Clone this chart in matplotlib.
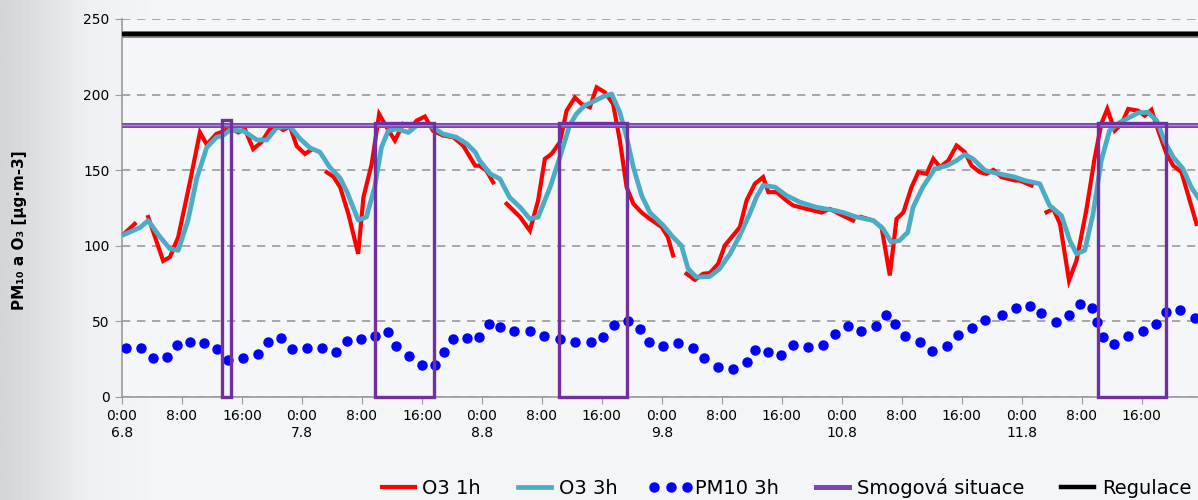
import numpy as np
import matplotlib
matplotlib.use("Agg")
import matplotlib.pyplot as plt
from matplotlib.lines import Line2D
from matplotlib.patches import Rectangle
from matplotlib.colors import LinearSegmentedColormap

# hours since 0:00 6.8 ; values in ug/m3 (nan = missing hour)
nan = np.nan
o3_1h_hours = [0.3, 1.7, 2.5, 3.5, 5.5, 6.4, 7.5, 9.1, 10.4, 11.3, 12.6, 13.7, 14.2, 15.5,
               16.4, 17.5, 18.6, 19.7, 20.6, 21.5, 22.4, 23.3, 24.4, 25.1, 26.0,
               27.3, 28.2, 29.1, 30.2, 31.5, 32.2, 33.3, 34.3, 35.3, 36.4, 37.5, 38.6,
               39.3, 40.4, 41.5, 42.8, 44.2, 45.5, 47.1, 47.7, 48.6, 49.5, 50.4,
               51.3, 53.1, 54.4, 55.5, 56.4, 57.3, 58.4, 59.3, 60.4, 61.3, 62.4, 63.3,
               64.4, 65.5, 66.4, 67.3, 68.2, 69.3, 70.4, 72.0, 72.8, 73.5, 74.4,
               75.3, 76.4, 77.5, 78.4, 79.5, 80.4, 81.5, 82.4, 83.3, 84.4, 85.5, 86.2,
               87.3, 88.6, 89.5, 91.3, 93.3, 94.4, 95.7, 97.5, 98.0,
               98.6, 100.2, 101.3, 102.4, 103.3, 104.2, 105.3, 106.2, 107.3, 108.2,
               109.1, 110.2, 111.3, 112.4, 113.3, 114.4, 115.3, 116.2, 117.3, 119.1,
               119.7, 121.3, 122.3,
               123.3, 124.2, 125.1, 126.3, 127.3, 128.6, 129.7, 130.6, 131.4, 132.4,
               133.3, 134.2, 135.5, 136.4, 137.3, 138.2, 139.3, 140.2, 141.3, 142.4, 143.3]
o3_1h = [108, 114.5, nan, 119, 90, 92.5, 105.7, 143, 175, 167, 174, 176, 178.4, 175,
         177, 164, 168.5, 177, 179.5, 176.6, 179, 166, 160.8, 163, nan,
         148.7, 145.7, 138.8, 121, 94.7, 132, 154, 187, 178.4, 169.6, 180.6, 178.4,
         182.8, 185.5, 176, 173, 171.8, 166.3, 153, 153, 149.8, 142, nan,
         127.8, 119, 110, 130, 157.5, 160.8, 168.5, 189.4, 198, 193.8, 191.6, 204.8,
         201.5, 193.8, 169.6, 138.8, 127.8, 122, 117.8, 112.3, 105.7, 93.6, nan,
         81.5, 77.5, 81.5, 82, 88, 100.2, 106.8, 112.3, 130, 141, 145.4, 135.5,
         135.5, 130, 126.7, 124.4, 122, 124.4, 121, 116.7, nan,
         119, 116.7, 112.3, 80.4, 117.8, 122, 138.8, 148.7, 147.6, 157.5,
         152, 156.4, 166.3, 162, 153, 148.7, 147.6, 150.2, 145.4, 143.2,
         143.2, 139.9, nan,
         122.2, 124.4, 114.5, 77, 90.3, 123.3, 157.5, 180.6, 190.5, 176.2,
         180.6, 190.5, 189.4, 186, 189.9, 176.2, 160.8, 153, 148.7, 130, 114.5]

o3_3h_hours = [0.3, 2.4, 3.5, 5.1, 6.4, 7.5, 8.8, 10.0, 11.3, 12.6, 13.5, 14.4, 16.2,
               18.0, 19.3, 20.6, 22.4, 23.7, 25.1, 26.4, 27.7, 29.1, 30.1, 31.5, 32.6,
               33.7, 34.6, 35.5, 36.6, 38.2, 39.3, 41.1, 42.8, 44.6, 46.0, 47.1, 47.7,
               49.1, 50.4, 51.7, 53.1, 54.4, 55.5, 57.1, 58.4, 59.7, 60.6, 61.7, 63.1,
               64.2, 65.3, 66.4, 67.3, 68.2, 69.3, 70.4, 72.2, 73.5, 74.6, 75.5, 76.6,
               78.4, 79.7, 81.1, 82.4, 83.7, 84.6, 85.5, 87.1, 88.6, 90.4, 92.6, 95.1,
               96.2, 98.0, 100.2, 101.5, 102.6, 103.7, 104.8, 105.5, 106.8, 108.4,
               110.0, 111.3, 112.4, 113.5, 115.1, 116.6, 119.1, 120.4, 122.4, 123.7,
               125.3, 126.4, 127.3, 128.4, 129.5, 130.6, 131.7, 133.1, 134.4, 135.5,
               136.8, 138.0, 139.1, 140.2, 141.5, 142.6, 143.5]
o3_3h = [107.5, 112, 116.7, 105.7, 98, 97, 116.7, 145, 165, 171.8, 173, 176.6, 176,
         170, 170, 178, 179, 171, 164.7, 162, 152, 144.8, 134.7, 117, 119,
         138.8, 165, 176, 177.3, 175, 179.5, 179.5, 174, 171.8, 167.4, 162, 156.4,
         147.6, 144.3, 132, 125.5, 117.8, 119, 138.8, 158.6, 179.5, 187.2, 192.7, 196,
         198.7, 200.4, 188.3, 171.8, 152, 133.3, 122, 113.4, 105.7, 100.2, 84.8, 79.3,
         79.7, 84.8, 94.7, 106.8, 121, 132, 140, 138.8, 133.3, 128.9, 125.5, 123.3,
         122, 119, 116.7, 111.2, 102.4, 103.5, 109, 125.5, 138.8, 150.9,
         153, 156.4, 160.4, 157.5, 149.8, 148, 145.4, 143.2, 141, 126.7,
         120, 103.5, 94.7, 97, 121, 156.4, 176.2, 181.7, 185, 187.9,
         188.3, 182.8, 168.5, 158.6, 150.9, 138.8, 132]

pm10_hours = [0.5, 2.5, 4.2, 6.0, 7.3, 9.1, 11.0, 12.7, 14.2, 16.2, 18.1, 19.5, 21.2,
              22.7, 24.7, 26.7, 28.6, 30.0, 31.9, 33.7, 35.5, 36.5, 38.3, 40.0, 41.8,
              43.0, 44.2, 46.0, 47.6, 48.9, 50.4, 52.3, 54.4, 56.3, 58.4, 60.4, 62.5,
              64.2, 65.6, 67.5, 69.1, 70.3, 72.2, 74.2, 76.2, 77.6, 79.5, 81.5, 83.4,
              84.4, 86.2, 87.9, 89.5, 91.5, 93.5, 95.1, 96.8, 98.6, 100.5, 101.9,
              103.1, 104.4, 106.4, 108.0, 110.0, 111.5, 113.3, 115.1, 117.3, 119.2,
              121.1, 122.6, 124.5, 126.3, 127.7, 129.3, 130.0, 130.8, 132.3, 134.1,
              136.1, 137.9, 139.2, 141.1, 143.1]
pm10 = [32.2, 32.6, 26, 26.5, 34.2, 36.4, 36, 31.5, 24.5, 25.6, 28.4, 36.4, 38.8,
        32, 32.4, 32.6, 29.8, 37, 38.4, 40.3, 42.8, 33.7, 27.1, 21.2, 21.2,
        29.8, 38.1, 39.2, 39.7, 48.3, 46.5, 43.7, 43.7, 40.6, 38.1, 36.2, 36.2,
        39.9, 47.8, 50.5, 45, 36.4, 33.9, 35.7, 32.4, 25.6, 20, 18.3, 22.9,
        31.1, 30, 27.8, 34.4, 33.3, 34.6, 41.9, 47, 43.9, 47, 54.2,
        48.3, 40.3, 36.6, 30.6, 33.9, 40.8, 45.4, 50.9, 54, 58.9,
        60.4, 55.6, 49.4, 54.4, 61.5, 58.9, 49.8, 39.9, 35.3, 40.1,
        43.9, 48.3, 56, 57.5, 52]

smog_start = [13.4, 33.7, 58.3, 130.2]
smog_end = [14.5, 41.6, 67.3, 139.2]
smog_top = [183.5, 181.5, 181, 181.5]
smog_limit = 180
regulace = 240

tick_hours = list(range(0, 144, 8))
tick_labels = []
for h in tick_hours:
    lab = f"{h % 24}:00"
    if h % 24 == 0:
        lab += f"\n{6 + h // 24}.8"
    tick_labels.append(lab)

RED = "#ff0000"
CYAN = "#4bacc6"
BLUE = "#0000ff"
PURPLE = "#7030a0"
GRID = "#9a9a9a"

fig = plt.figure(figsize=(11.98, 5.0), dpi=100)

# soft gray background, darker toward the left edge
bg = fig.add_axes([0, 0, 1, 1], zorder=-10)
cmap = LinearSegmentedColormap.from_list("bg", [(0, "#d3d5d8"), (0.07, "#eef0f3"),
                                                (0.12, "#f3f5f8"), (1, "#f4f6f9")])
bg.imshow(np.linspace(0, 1, 400)[None, :], aspect="auto", cmap=cmap,
          extent=[0, 1, 0, 1])
bg.set_axis_off()

ax = fig.add_axes([0.1018, 0.206, 0.8982, 0.756])
ax.set_facecolor("#f4f6f9")

ax.plot(o3_1h_hours, o3_1h, color=RED, lw=3.0, zorder=4, solid_joinstyle="miter")
ax.plot(o3_3h_hours, o3_3h, color=CYAN, lw=3.4, zorder=5)
ax.plot(pm10_hours, pm10, ls="none", marker="o", ms=6.5, color=BLUE, zorder=6)

ax.axhline(regulace, color="#8a8a8a", lw=5.0, zorder=3)
ax.axhline(regulace, color="black", lw=3.2, zorder=3)
ax.axhline(smog_limit, color="#7d45b5", lw=3.6, zorder=6)
ax.axhline(smog_limit, color="#b08ad8", lw=1.0, zorder=6)
for s, e, t in zip(smog_start, smog_end, smog_top):
    ax.add_patch(Rectangle((s, 0), e - s, t, fill=False, ec=PURPLE, lw=2.4,
                           zorder=7, clip_on=False))

ax.set_xlim(0, 143.5)
ax.set_ylim(0, 250)
ax.set_yticks(range(0, 251, 50))
ax.set_xticks(tick_hours)
ax.set_xticklabels(tick_labels, fontsize=10)
ax.tick_params(axis="y", labelsize=10, length=5, color=GRID, pad=4)
ax.tick_params(axis="x", length=5, color=GRID, pad=4)
ax.grid(axis="y", color=GRID, lw=1.2, ls=(0, (5, 4)), zorder=1)
ax.grid(axis="x", visible=False)
for s in ("top", "right"):
    ax.spines[s].set_visible(False)
for s in ("left", "bottom"):
    ax.spines[s].set_color(GRID)
    ax.spines[s].set_linewidth(1.2)

fig.text(20 / 1198, 1 - 230 / 500, "PM₁₀ a O₃ [µg·m-3]", rotation=90,
         ha="center", va="center", fontsize=11, fontweight="bold")

handles = [
    Line2D([], [], color=RED, lw=3.0),
    Line2D([], [], color=CYAN, lw=3.4),
    Line2D([], [], ls="none", marker="o", ms=6.5, color=BLUE),
    Line2D([], [], color="#7d45b5", lw=3.6),
    Line2D([], [], color="black", lw=3.2),
]
labels = ["O3 1h", "O3 3h", "PM10 3h", "Smogová situace", "Regulace"]
fig.legend(handles, labels, loc="lower left", bbox_to_anchor=(0.299, -0.03),
           ncol=5, frameon=False, fontsize=14, handlelength=2.3,
           handletextpad=0.1, columnspacing=1.6, numpoints=3)

fig.savefig("out.png", dpi=100)
